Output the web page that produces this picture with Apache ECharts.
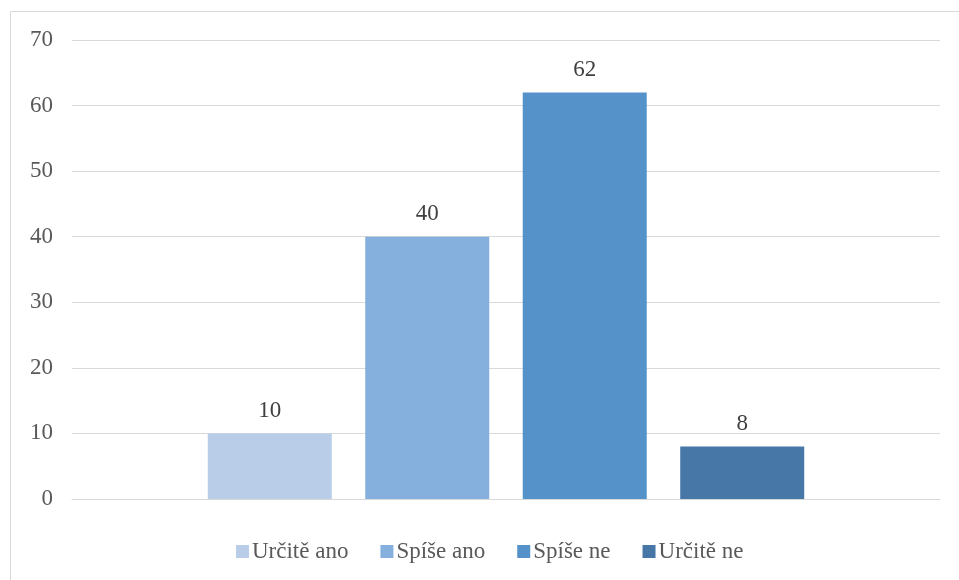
<!DOCTYPE html>
<html>
<head>
<meta charset="utf-8">
<script src="https://cdn.jsdelivr.net/npm/echarts@6/dist/echarts.min.js"></script>
<style>
  html, body { margin: 0; padding: 0; background: #fff; }
  #chart { width: 959px; height: 580px; }
</style>
</head>
<body>
<div id="chart"></div>
<script>
// Answer categories, their counts and bar colours
const seriesNames = ['Určitě ano', 'Spíše ano', 'Spíše ne', 'Určitě ne'];
const seriesValues = [10, 40, 62, 8];
const seriesColors = ['#b9cde8', '#85afdc', '#5592c9', '#4677a7'];
const yTicks = [0, 10, 20, 30, 40, 50, 60, 70];

const chart = echarts.init(document.getElementById('chart'));
const font = '"Liberation Serif", "Times New Roman", serif';

chart.setOption({
  animation: false,
  textStyle: { fontFamily: font },
  graphic: [{
    type: 'rect',
    shape: { x: 10.5, y: 11.5, width: 960, height: 600 },
    style: { fill: 'none', stroke: '#d9d9d9', lineWidth: 1 },
    silent: true
  }],
  grid: { left: 72, right: 19, top: 40, bottom: 81 },
  legend: {
    top: 540,
    left: 236,
    padding: 0,
    itemWidth: 13,
    itemHeight: 13,
    itemGap: 32,
    icon: 'rect',
    textStyle: { fontFamily: font, fontSize: 23, color: '#595959', padding: [0, 0, 0, -2] },
    data: seriesNames
  },
  xAxis: {
    type: 'category',
    data: [''],
    axisLine: { lineStyle: { color: '#d9d9d9' } },
    axisTick: { show: false },
    axisLabel: { show: false }
  },
  yAxis: {
    type: 'value',
    min: yTicks[0],
    max: yTicks[yTicks.length - 1],
    interval: 10,
    axisLine: { show: false },
    axisTick: { show: false },
    axisLabel: { fontFamily: font, fontSize: 23, color: '#595959', margin: 19 },
    splitLine: { lineStyle: { color: '#d9d9d9', width: 1 } }
  },
  series: seriesNames.map((name, i) => ({
    name: name,
    type: 'bar',
    data: [seriesValues[i]],
    barWidth: 124,
    barGap: '27%',
    itemStyle: { color: seriesColors[i] },
    label: {
      show: true,
      position: 'top',
      distance: 11,
      fontFamily: font,
      fontSize: 23,
      color: '#404040'
    }
  }))
});
</script>
</body>
</html>
